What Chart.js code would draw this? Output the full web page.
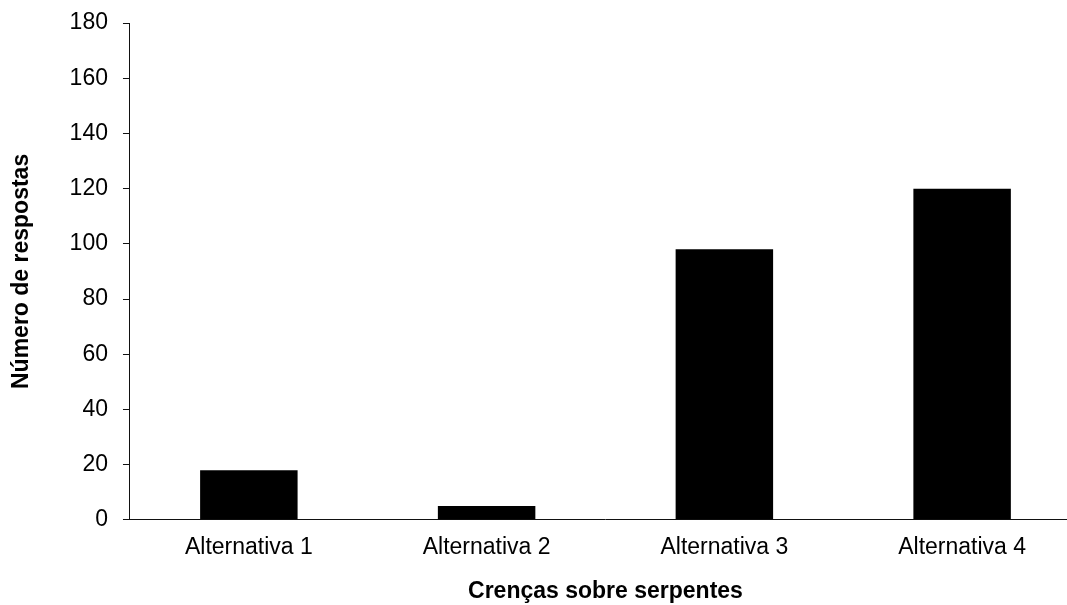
<!DOCTYPE html>
<html>
<head>
<meta charset="utf-8">
<script src="https://cdn.jsdelivr.net/npm/chart.js@4/dist/chart.umd.min.js"></script>
<style>
  html, body { margin: 0; padding: 0; background: #fff; overflow: hidden; }
  /* the original plot runs a little past the right edge of the picture */
  #wrap { width: 1067px; height: 605px; overflow: hidden; }
  #chart { display: block; }
</style>
</head>
<body>
<div id="wrap"><canvas id="chart" width="1082" height="605"></canvas></div>
<script>
// Chart data
const categories = ['Alternativa 1', 'Alternativa 2', 'Alternativa 3', 'Alternativa 4'];
const respostas = [18, 5, 98, 120];
const yMin = 0;
const yMax = 180;
const yStep = 20;

const xTitle = 'Crenças sobre serpentes';
const yTitle = 'Número de respostas';

const fontFamily = '"Liberation Sans", Arial, sans-serif';

new Chart(document.getElementById('chart').getContext('2d'), {
    type: 'bar',
    data: {
        labels: categories,
        datasets: [{
            data: respostas,
            backgroundColor: '#000',
            borderColor: '#000',
            borderWidth: 0,
            barPercentage: 0.41,
            categoryPercentage: 1
        }]
    },
    options: {
        responsive: false,
        animation: false,
        layout: {
            padding: { left: 8, top: 5, right: 1, bottom: 0 }
        },
        plugins: {
            legend: { display: false },
            tooltip: { enabled: false }
        },
        scales: {
            x: {
                grid: { drawOnChartArea: false, drawTicks: false },
                border: { display: true, color: '#111', width: 1 },
                ticks: {
                    color: '#000',
                    padding: 14,
                    font: { family: fontFamily, size: 23 }
                },
                title: {
                    display: true,
                    text: xTitle,
                    color: '#000',
                    padding: { top: 2, bottom: 0 },
                    font: { family: fontFamily, size: 23, weight: 'bold' }
                }
            },
            y: {
                min: yMin,
                max: yMax,
                grid: { drawOnChartArea: false, drawTicks: true, tickLength: 7, color: '#111' },
                border: { display: true, color: '#111', width: 1 },
                ticks: {
                    stepSize: yStep,
                    color: '#000',
                    padding: 15,
                    // small line height so the top label does not push the plot down
                    font: { family: fontFamily, size: 23, lineHeight: 0.7 }
                },
                title: {
                    display: true,
                    text: yTitle,
                    color: '#000',
                    padding: { top: 0, bottom: 19 },
                    font: { family: fontFamily, size: 23, weight: 'bold' }
                }
            }
        }
    }
});
</script>
</body>
</html>
